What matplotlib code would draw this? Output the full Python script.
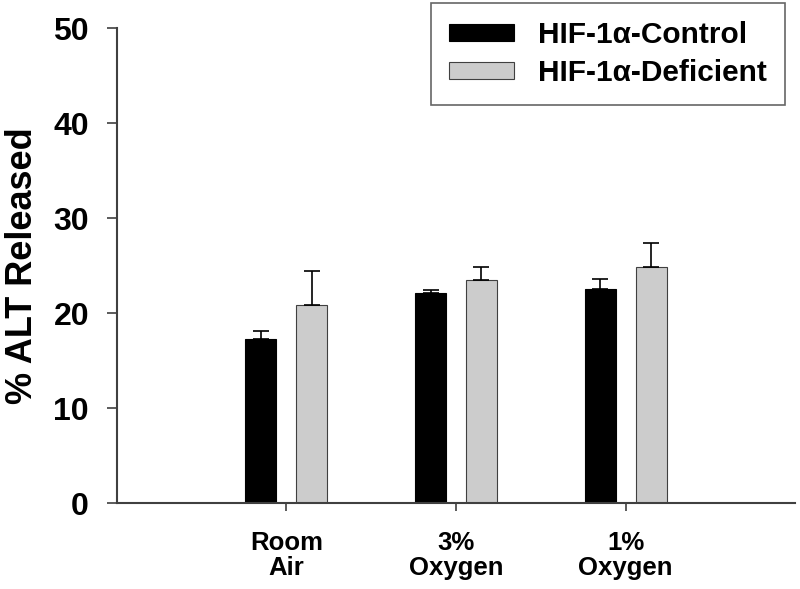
import numpy as np
import matplotlib
matplotlib.use('Agg')
import matplotlib.pyplot as plt

# Values
categories = ['Room\nAir', '3%\nOxygen', '1%\nOxygen']
control = [17.3, 22.1, 22.5]
control_err = [0.8, 0.3, 1.05]
deficient = [20.9, 23.5, 24.9]
deficient_err = [3.5, 1.4, 2.5]
series_labels = ['HIF-1α-Control', 'HIF-1α-Deficient']

plt.rcParams['font.family'] = ['Liberation Sans', 'DejaVu Sans']
plt.rcParams['font.weight'] = 'bold'

fig = plt.figure(figsize=(8, 5.89), dpi=100)
ax = fig.add_axes([0.146, 0.146, 0.848, 0.806])

x = np.arange(1, len(categories) + 1)
width = 0.183
offset = 0.15
err_style = dict(ecolor='black', elinewidth=1.2, capsize=5.5, capthick=1.2)
ax.bar(x - offset, control, width, color='black', edgecolor='black',
       linewidth=0.8, label=series_labels[0],
       yerr=[np.zeros(3), control_err], error_kw=err_style)
ax.bar(x + offset, deficient, width, color='#cccccc', edgecolor='#404040',
       linewidth=0.8, label=series_labels[1],
       yerr=[np.zeros(3), deficient_err], error_kw=err_style)

ax.set_xlim(0, 4)
ax.set_ylim(0, 50)
ax.set_yticks([0, 10, 20, 30, 40, 50])
ax.set_xticks(x)
ax.set_xticklabels(categories, fontsize=18.5, fontweight='bold', linespacing=1.05)
ax.tick_params(axis='y', labelsize=23, length=7, width=1.2, color='#404040', pad=13)
ax.tick_params(axis='x', length=6, width=1.2, color='#404040', pad=14)
for lbl in ax.get_yticklabels():
    lbl.set_fontweight('bold')
ax.set_ylabel('% ALT Released', fontsize=26, fontweight='bold', labelpad=10)

for side in ['top', 'right']:
    ax.spines[side].set_visible(False)
for side in ['left', 'bottom']:
    ax.spines[side].set_color('#404040')
    ax.spines[side].set_linewidth(1.5)

leg = ax.legend(loc='upper right', bbox_to_anchor=(0.985, 1.053),
                prop={'weight': 'bold', 'size': 21.5}, frameon=True, fancybox=False,
                edgecolor='#404040', handlelength=2.2, handleheight=0.5,
                borderpad=0.6, labelspacing=0.35, handletextpad=0.8,
                borderaxespad=0)
leg.get_frame().set_linewidth(1.2)

fig.savefig('out.png', dpi=100)
